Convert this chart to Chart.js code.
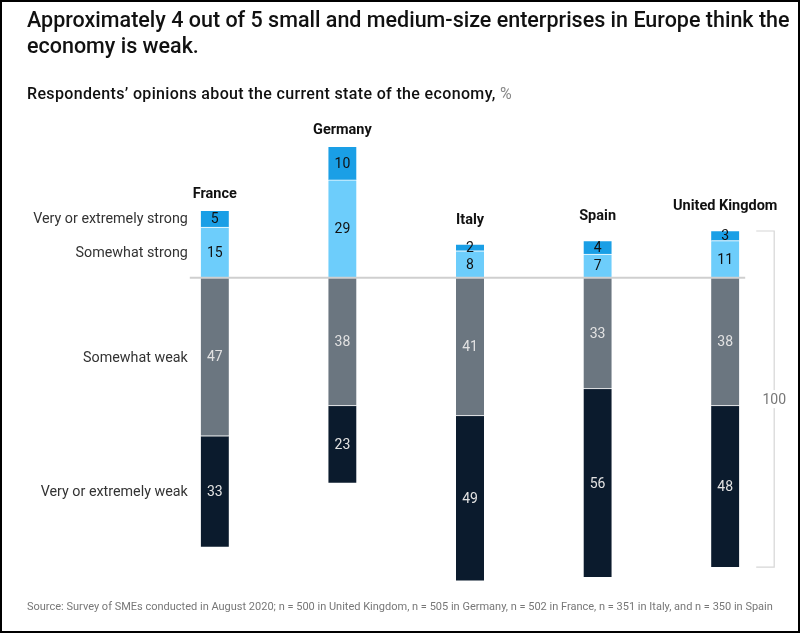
<!DOCTYPE html>
<html><head><meta charset="utf-8">
<script src="https://cdn.jsdelivr.net/npm/chart.js@4"></script>
<style>
html,body{margin:0;padding:0;background:#fff;}
#wrap{position:relative;width:800px;height:633px;overflow:hidden;}
#frame{position:absolute;left:0;top:0;width:800px;height:633px;box-sizing:border-box;border:2px solid #000;pointer-events:none;z-index:5;}
canvas{position:absolute;left:0;top:0;}
.t{position:absolute;font-family:Roboto,"Liberation Sans",sans-serif;color:#111;white-space:nowrap;}
#title{left:27px;top:7px;font-size:21.5px;font-weight:500;line-height:26px;}
#sub{left:27px;top:84px;font-size:16px;font-weight:500;letter-spacing:0.35px;}
#sub span{color:#888;font-weight:400;}
#src{left:27px;top:600px;font-size:11px;color:#777;}
</style></head>
<body><div id="wrap">
<canvas id="c" width="800" height="633"></canvas>
<div class="t" id="title">Approximately 4 out of 5 small and medium-size enterprises in Europe think the<br>economy is weak.</div>
<div class="t" id="sub">Respondents’ opinions about the current state of the economy, <span>%</span></div>
<div class="t" id="src">Source: Survey of SMEs conducted in August 2020; n = 500 in United Kingdom, n = 505 in Germany, n = 502 in France, n = 351 in Italy, and n = 350 in Spain</div>
<div id="frame"></div>
</div>
<script>
const countries = ['France','Germany','Italy','Spain','United Kingdom'];
const seriesNames = ['Very or extremely strong','Somewhat strong','Somewhat weak','Very or extremely weak'];
const veryStrong = [5,10,2,4,3];
const somewhatStrong = [15,29,8,7,11];
const somewhatWeak = [47,38,41,33,38];
const veryWeak = [33,23,49,56,48];
const bracketLabel = '100';

const colors = ['#1a9fe6','#6dcdfb','#6b7680','#0b1b2d'];
const textColors = ['#111','#111','#e2e2e2','#e2e2e2'];

const FONT = 'Roboto, "Liberation Sans", sans-serif';

const labelsPlugin = {
  id:'labelsPlugin',
  afterDatasetsDraw(chart){
    const ctx = chart.ctx;
    const ya = chart.scales.y;
    const xa = chart.scales.x;
    const y0 = ya.getPixelForValue(0);
    const m0 = chart.getDatasetMeta(0).data[0];
    const mL = chart.getDatasetMeta(0).data[countries.length-1];
    ctx.save();
    ctx.strokeStyle = '#cfcfcf'; ctx.lineWidth = 2;
    ctx.beginPath(); ctx.moveTo(m0.x - m0.width/2 - 11, y0); ctx.lineTo(mL.x + mL.width/2 + 6, y0); ctx.stroke();
    // value labels
    ctx.font = '14px ' + FONT;
    ctx.textAlign='center'; ctx.textBaseline='middle';
    chart.data.datasets.forEach((ds,di)=>{
      const meta = chart.getDatasetMeta(di);
      meta.data.forEach((bar,i)=>{
        const v = Math.abs(ds.data[i]);
        ctx.fillStyle = textColors[ds.order_idx];
        ctx.fillText(String(v), bar.x, (bar.y+bar.base)/2 + 1);
      });
    });
    // country labels
    ctx.font = 'bold 14.5px ' + FONT;
    ctx.fillStyle = '#111';
    countries.forEach((c,i)=>{
      const top = ya.getPixelForValue(veryStrong[i]+somewhatStrong[i]);
      const off = veryStrong[i] < 5 ? 24 : 16;
      ctx.fillText(c, xa.getPixelForValue(i), top - off);
    });
    // row labels on left, aligned to first country's segments
    ctx.font = '14.3px ' + FONT;
    ctx.fillStyle = '#333';
    ctx.textAlign = 'right';
    chart.data.datasets.forEach((ds,di)=>{
      const bar = chart.getDatasetMeta(di).data[0];
      ctx.fillText(seriesNames[ds.order_idx], bar.x - bar.width/2 - 13, (bar.y+bar.base)/2 + 1);
    });
    // bracket on the last bar
    const li = countries.length-1;
    const topY = ya.getPixelForValue(veryStrong[li]+somewhatStrong[li]);
    const botY = ya.getPixelForValue(-(somewhatWeak[li]+veryWeak[li]));
    const bx = mL.x + mL.width/2 + 35;
    const tx = mL.x + mL.width/2 + 17;
    ctx.strokeStyle = '#d6d6d6'; ctx.lineWidth = 1.2;
    ctx.beginPath();
    ctx.moveTo(tx, topY+0.5); ctx.lineTo(bx, topY+0.5); ctx.lineTo(bx, botY-0.5); ctx.lineTo(tx, botY-0.5);
    ctx.stroke();
    const my = (topY+botY)/2;
    ctx.fillStyle='#fff'; ctx.fillRect(bx-14, my-9, 28, 18);
    ctx.fillStyle='#777'; ctx.textAlign='center'; ctx.font='14px ' + FONT;
    ctx.fillText(bracketLabel, bx, my+1);
    ctx.restore();
  }
};

const mk = (label, data, idx) => ({
  label, data, order_idx: idx,
  backgroundColor: colors[idx],
  borderColor:'#ffffff',
  borderWidth:{top:1,bottom:1,left:0,right:0},
  borderSkipped:'start',
  barThickness:28,
  stack:'s'
});

new Chart(document.getElementById('c'), {
  type:'bar',
  data:{
    labels: countries,
    datasets:[
      mk(seriesNames[1], somewhatStrong, 1),
      mk(seriesNames[0], veryStrong, 0),
      mk(seriesNames[2], somewhatWeak.map(v=>-v), 2),
      mk(seriesNames[3], veryWeak.map(v=>-v), 3)
    ]
  },
  options:{
    responsive:false, animation:false,
    layout:{padding:{left:151,right:11,top:126,bottom:35}},
    plugins:{legend:{display:false}, tooltip:{enabled:false}},
    scales:{
      x:{display:false, stacked:true, offset:true},
      y:{display:false, stacked:true, min:-95, max:45}
    }
  },
  plugins:[labelsPlugin]
});
</script>
</body></html>
